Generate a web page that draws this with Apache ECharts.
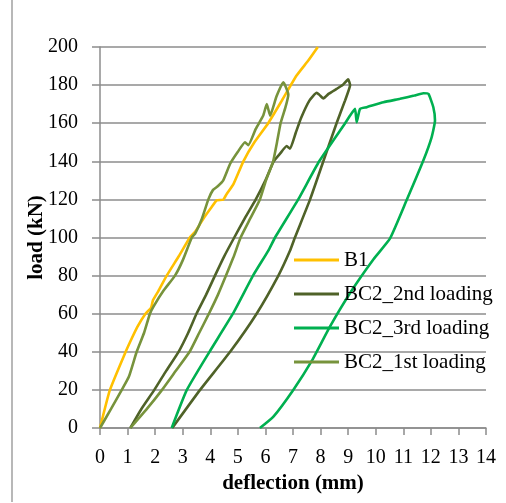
<!DOCTYPE html>
<html lang="en">
<head>
  <meta charset="UTF-8">
  <title>load-deflection</title>
  <style>
    *{
      margin: 0;
      padding: 0;
    }
    body{
      background: #ffffff;
    }
    #chart{
      width: 506px;
      height: 503px;
    }
  </style>
</head>
<body>
<div id="chart"></div>
<script type="text/javascript" src="https://cdn.jsdelivr.net/npm/echarts@6/dist/echarts.min.js"></script>
<script>
  // [deflection (mm), load (kN)]
  var b1 = [[0,0],[0.36,20],[0.93,40],[1.15,47],[1.35,53],[1.65,60],[1.85,63],[1.92,67],[2.12,72],[2.42,80],[2.85,90],[3.26,100],[3.45,103],[3.8,111],[4.05,116],[4.23,119.5],[4.47,119.8],[4.6,123],[4.84,128],[5.2,140],[5.6,150],[6.1,160],[6.6,172],[7.13,185],[7.56,193],[7.9,200]];
  var bc2Second = [[1.1,0],[1.5,10],[1.97,20],[2.4,30],[2.85,40],[3.2,50],[3.5,60],[3.85,70],[4.17,80],[4.5,90],[4.87,100],[5.25,110],[5.65,120],[6.0,130],[6.3,140],[6.53,144],[6.77,148],[6.89,146.6],[7.1,155],[7.3,163],[7.6,172],[7.86,176],[7.95,175],[8.1,173],[8.3,175.5],[8.58,178],[8.8,180],[9.0,183],[9.07,180],[8.89,172],[8.58,160],[8.1,140],[7.62,120],[7.07,100],[6.89,93],[6.47,80],[5.68,60],[4.72,40],[3.63,20],[2.62,0]];
  var bc2Third = [[2.6,0],[3.15,20],[3.97,40],[4.82,60],[5.55,80],[6.1,93],[6.35,100],[7.19,120],[7.95,140],[8.89,160],[9.07,164],[9.25,167.5],[9.31,160.5],[9.43,167.5],[9.67,168.4],[10.28,171],[10.88,172.8],[11.4,174.5],[11.73,175.7],[11.91,175.4],[12.09,168.4],[12.15,161.4],[12.03,152.7],[11.73,140.5],[11.12,119.5],[10.52,99.5],[9.92,88.6],[9.1,71.5],[8.34,53.2],[7.68,35.2],[7.01,20],[6.29,6],[5.8,0]];
  var bc2First = [[0,0],[0.4,10],[0.79,20],[1.05,27],[1.33,40],[1.6,50],[1.81,60],[1.95,64],[2.3,72],[2.72,80],[3.0,88],[3.33,100],[3.45,102],[3.7,110],[3.93,120],[4.1,125],[4.28,127],[4.47,130],[4.72,138.7],[5.0,145],[5.26,150],[5.38,148.5],[5.65,157],[5.92,164],[6.05,170],[6.17,164],[6.4,174],[6.65,181.5],[6.83,175],[6.72,168],[6.55,160],[6.42,150],[6.28,140],[6.02,130],[5.8,120],[5.45,110],[5.1,100],[4.85,90],[4.57,80],[4.28,70],[3.95,60],[3.6,50],[3.25,40],[2.75,30],[2.25,20],[1.7,10],[1.1,0]];

  var seriesNames = ['B1', 'BC2_2nd loading', 'BC2_3rd loading', 'BC2_1st loading'];
  var seriesColors = ['#FFC000', '#4F6228', '#00B050', '#77933C'];
  var seriesData = [b1, bc2Second, bc2Third, bc2First];

  var font = '"Liberation Serif", "Times New Roman", serif';
  var gridGray = '#8c8c8c';

  var myChart = echarts.init(document.getElementById('chart'));

  var series = seriesNames.map(function (name, i) {
    return {
      name: name,
      type: 'line',
      data: seriesData[i],
      symbol: 'none',
      smooth: 0.15,
      lineStyle: { color: seriesColors[i], width: 2.6 },
      itemStyle: { color: seriesColors[i] }
    };
  });

  var option = {
    backgroundColor: '#ffffff',
    animation: false,
    grid: { left: 100, right: 20, top: 47, bottom: 75 },
    graphic: [{
      type: 'line',
      shape: { x1: 12, y1: 0, x2: 12, y2: 502 },
      style: { stroke: '#a0a0a0', lineWidth: 1.5 }
    }],
    legend: {
      orient: 'vertical',
      left: 289,
      top: 244,
      icon: 'rect',
      itemWidth: 45,
      itemHeight: 3,
      itemGap: 12,
      data: seriesNames,
      textStyle: { fontFamily: font, fontSize: 21, color: '#000', lineHeight: 22 }
    },
    xAxis: {
      type: 'value',
      min: 0,
      max: 14,
      interval: 1,
      name: 'deflection (mm)',
      nameLocation: 'middle',
      nameGap: 45,
      nameMoveOverlap: false,
      nameTextStyle: { fontFamily: font, fontSize: 21, fontWeight: 'bold', color: '#000' },
      axisLine: { lineStyle: { color: gridGray, width: 1.5 } },
      axisTick: { show: true, length: 7, lineStyle: { color: gridGray, width: 1.5 } },
      axisLabel: { margin: 20, fontFamily: font, fontSize: 20, color: '#000' },
      splitLine: { show: false }
    },
    yAxis: {
      type: 'value',
      min: 0,
      max: 200,
      interval: 20,
      name: 'load (kN)',
      nameLocation: 'middle',
      nameGap: 53,
      nameMoveOverlap: false,
      nameTextStyle: { fontFamily: font, fontSize: 21, fontWeight: 'bold', color: '#000' },
      axisLine: { show: true, lineStyle: { color: gridGray, width: 1.5 } },
      axisTick: { show: true, length: 8, lineStyle: { color: gridGray, width: 1.5 } },
      axisLabel: { margin: 22, fontFamily: font, fontSize: 20, color: '#000' },
      splitLine: { show: true, lineStyle: { color: gridGray, width: 1.5 } }
    },
    series: series
  };

  myChart.setOption(option);
</script>
</body>
</html>
